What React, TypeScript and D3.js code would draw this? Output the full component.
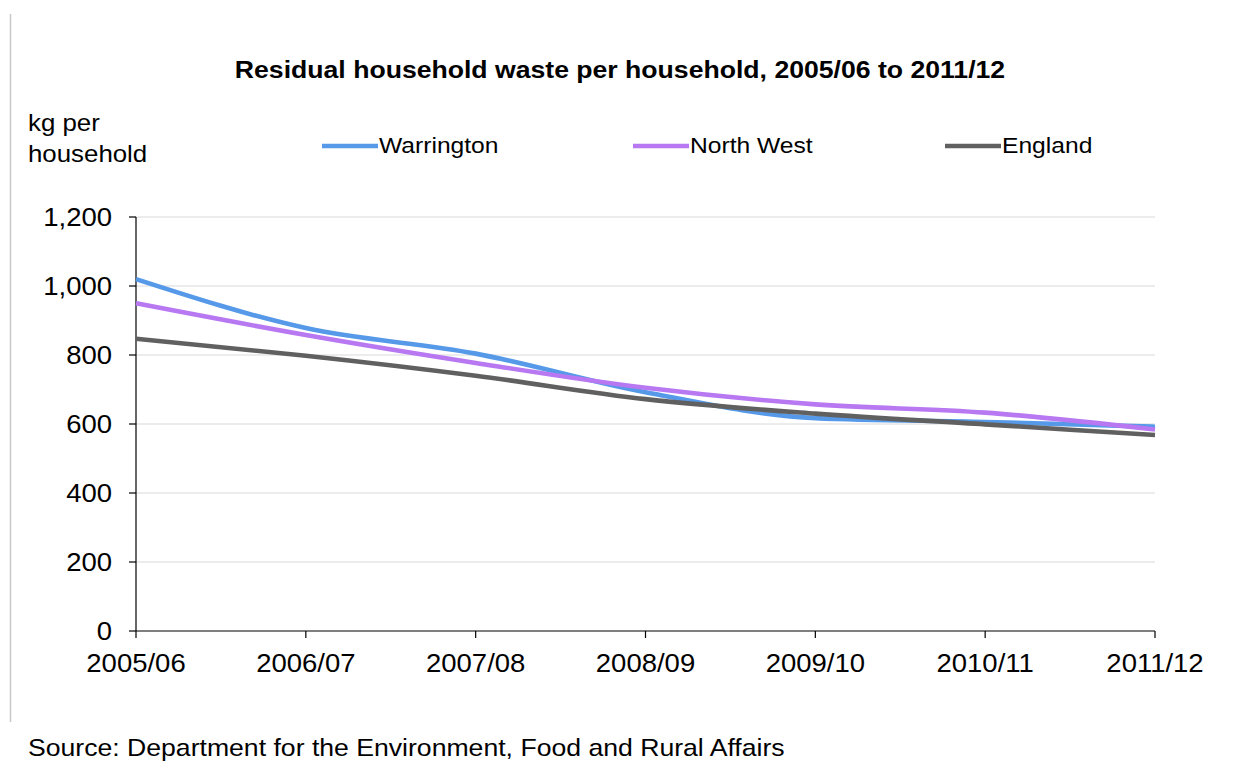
import React from "react";
import * as d3 from "d3";

const categories = ["2005/06", "2006/07", "2007/08", "2008/09", "2009/10", "2010/11", "2011/12"];
const warrington = [1020, 878, 804, 692, 617, 606, 592];
const northWest = [950, 858, 777, 705, 657, 633, 584];
const england = [847, 798, 740, 672, 630, 599, 568];
const yTicks = [0, 200, 400, 600, 800, 1000, 1200];
const seriesNames = ["Warrington", "North West", "England"];
const seriesColors = ["#5599e8", "#b878f2", "#606060"];

const SX = 1.1;

function T(props: { x: number; y: number; size: number; anchor?: string; bold?: boolean; children: React.ReactNode }) {
  return (
    <g transform={`translate(${props.x},${props.y}) scale(${SX},1)`}>
      <text x={0} y={0} fontSize={props.size} textAnchor={props.anchor || "start"} fontWeight={props.bold ? "bold" : "normal"} fill="#000">
        {props.children}
      </text>
    </g>
  );
}

export default function App() {
  const W = 1237, H = 769;
  const left = 136, right = 1155, top = 217, bottom = 631;
  const x = d3.scalePoint<string>().domain(categories).range([left, right]);
  const y = d3.scaleLinear().domain([0, 1200]).range([bottom, top]);
  const fmt = d3.format(",");
  const line = d3.line<number>()
    .x((_, i) => x(categories[i]) as number)
    .y((d) => y(d))
    .curve(d3.curveMonotoneX);
  const series = [warrington, northWest, england];
  const legendX = [322, 633, 945];
  const font = "Arial, 'Liberation Sans', sans-serif";

  return (
    <svg width={W} height={H} style={{ position: "absolute", left: 0, top: 0, background: "#fff" }} fontFamily={font}>
      <rect width={W} height={H} fill="#fff" />
      <line x1={10.5} x2={10.5} y1={14} y2={722} stroke="#c8c8c8" strokeWidth={1.5} />
      <T x={620} y={78} size={24.2} anchor="middle" bold>
        Residual household waste per household, 2005/06 to 2011/12
      </T>
      <T x={28} y={131} size={23.5}>kg per</T>
      <T x={28} y={162} size={23.5}>household</T>
      {seriesNames.map((n, i) => (
        <g key={n}>
          <line x1={legendX[i]} x2={legendX[i] + 56} y1={146} y2={146} stroke={seriesColors[i]} strokeWidth={4.5} />
          <T x={legendX[i] + 57} y={153} size={22.4}>{n}</T>
        </g>
      ))}
      {yTicks.map((t) => (
        <g key={t}>
          {t > 0 && <line x1={left} x2={right} y1={y(t)} y2={y(t)} stroke="#d9d9d9" strokeWidth={1.2} />}
          <line x1={left - 7} x2={left} y1={y(t)} y2={y(t)} stroke="#000" strokeWidth={1.2} />
          <T x={112} y={y(t) + 9} size={25} anchor="end">{fmt(t)}</T>
        </g>
      ))}
      <line x1={left} x2={left} y1={top} y2={bottom} stroke="#000" strokeWidth={1.2} />
      <line x1={left} x2={right} y1={bottom} y2={bottom} stroke="#000" strokeWidth={1.2} />
      {categories.map((c) => (
        <g key={c}>
          <line x1={x(c)} x2={x(c)} y1={bottom} y2={bottom + 7} stroke="#000" strokeWidth={1.2} />
          <T x={x(c) as number} y={672} size={25} anchor="middle">{c}</T>
        </g>
      ))}
      {series.map((s, i) => (
        <path key={i} d={line(s) || ""} fill="none" stroke={seriesColors[i]} strokeWidth={4.6} strokeLinejoin="round" />
      ))}
      <T x={28} y={756} size={24.2}>Source: Department for the Environment, Food and Rural Affairs</T>
    </svg>
  );
}
